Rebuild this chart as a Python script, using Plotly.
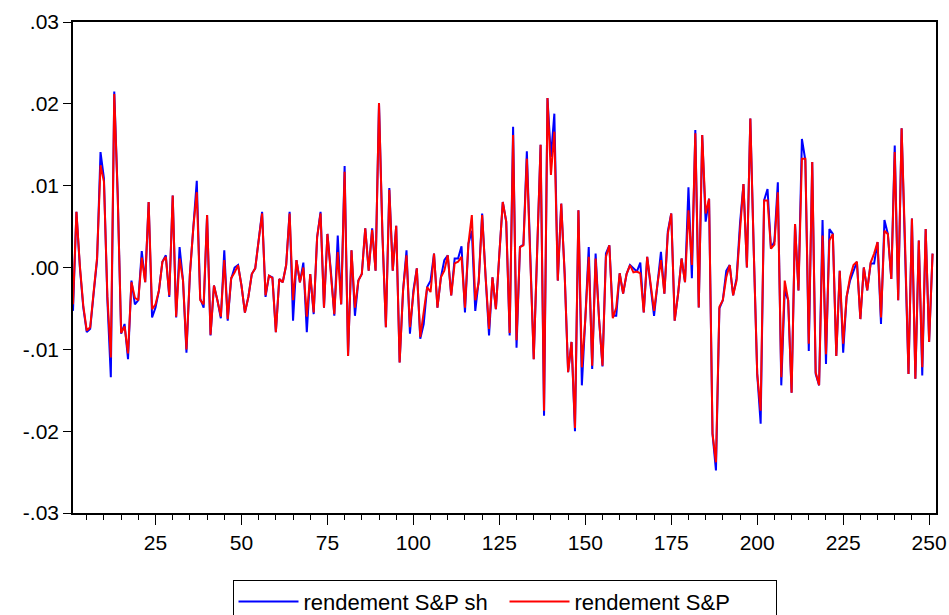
import plotly.graph_objects as go

# observation index
obs = list(range(1, 252))

# rendement S&P sh (blue)
sp_sh = [
    -0.0053, 0.0068, 0.0000, -0.0049, -0.0079, -0.0075, -0.0032, 0.0009, 0.0141, 0.0109,
    -0.0040, -0.0134, 0.0215, 0.0090, -0.0081, -0.0069, -0.0112, -0.0016, -0.0045, -0.0040,
    0.0020, -0.0018, 0.0080, -0.0061, -0.0049, -0.0028, 0.0007, 0.0015, -0.0036, 0.0088,
    -0.0061, 0.0025, -0.0016, -0.0104, -0.0008, 0.0049, 0.0106, -0.0038, -0.0049, 0.0064,
    -0.0083, -0.0022, -0.0040, -0.0062, 0.0021, -0.0065, -0.0014, 0.0000, 0.0003, -0.0022,
    -0.0055, -0.0036, -0.0008, -0.0001, 0.0033, 0.0068, -0.0036, -0.0010, -0.0012, -0.0079,
    -0.0014, -0.0018, 0.0003, 0.0068, -0.0065, 0.0009, -0.0018, 0.0006, -0.0079, -0.0008,
    -0.0057, 0.0037, 0.0068, -0.0049, 0.0041, -0.0004, -0.0059, 0.0039, -0.0045, 0.0124,
    -0.0108, 0.0021, -0.0059, -0.0016, -0.0008, 0.0048, -0.0004, 0.0048, -0.0004, 0.0201,
    0.0040, -0.0073, 0.0097, -0.0004, 0.0051, -0.0116, -0.0028, 0.0021, -0.0081, -0.0028,
    -0.0001, -0.0087, -0.0069, -0.0024, -0.0016, 0.0017, -0.0049, -0.0012, 0.0009, 0.0015,
    -0.0034, 0.0011, 0.0011, 0.0026, -0.0055, 0.0029, 0.0045, -0.0053, -0.0016, 0.0066,
    -0.0011, -0.0083, -0.0012, -0.0051, 0.0016, 0.0080, 0.0056, -0.0083, 0.0172, -0.0098,
    0.0025, 0.0028, 0.0142, 0.0015, -0.0112, 0.0020, 0.0150, -0.0181, 0.0207, 0.0135,
    0.0188, -0.0016, 0.0078, -0.0008, -0.0128, -0.0091, -0.0200, 0.0070, -0.0144, -0.0063,
    0.0025, -0.0124, 0.0017, -0.0063, -0.0121, 0.0017, 0.0027, -0.0059, -0.0059, -0.0007,
    -0.0032, -0.0008, 0.0003, -0.0001, -0.0005, 0.0006, -0.0055, 0.0013, -0.0022, -0.0059,
    -0.0020, 0.0019, -0.0032, 0.0044, 0.0066, -0.0065, -0.0032, 0.0011, -0.0018, 0.0098,
    -0.0013, 0.0168, -0.0049, 0.0162, 0.0056, 0.0084, -0.0203, -0.0248, -0.0050, -0.0040,
    -0.0004, 0.0003, -0.0034, -0.0013, 0.0054, 0.0102, 0.0000, 0.0182, 0.0020, -0.0130,
    -0.0191, 0.0082, 0.0096, 0.0023, 0.0032, 0.0104, -0.0144, -0.0028, -0.0040, -0.0153,
    0.0053, -0.0028, 0.0157, 0.0131, -0.0102, 0.0129, -0.0130, -0.0144, 0.0058, -0.0118,
    0.0047, 0.0041, -0.0108, -0.0004, -0.0104, -0.0036, -0.0016, -0.0004, 0.0007, -0.0063,
    0.0000, -0.0028, 0.0005, 0.0005, 0.0031, -0.0069, 0.0058, 0.0041, -0.0014, 0.0149,
    -0.0040, 0.0170, 0.0030, -0.0130, 0.0060, -0.0136, 0.0033, -0.0132, 0.0047, -0.0091,
    0.0017,
]

# rendement S&P (red)
sp = [
    -0.0045, 0.0068, 0.0002, -0.0047, -0.0077, -0.0073, -0.0030, 0.0012, 0.0125, 0.0105,
    -0.0035, -0.0110, 0.0212, 0.0088, -0.0080, -0.0072, -0.0105, -0.0018, -0.0037, -0.0040,
    0.0012, -0.0018, 0.0080, -0.0051, -0.0045, -0.0028, 0.0007, 0.0013, -0.0034, 0.0088,
    -0.0060, 0.0011, -0.0016, -0.0100, -0.0008, 0.0049, 0.0092, -0.0040, -0.0045, 0.0064,
    -0.0082, -0.0022, -0.0040, -0.0060, 0.0009, -0.0063, -0.0013, -0.0006, 0.0003, -0.0022,
    -0.0055, -0.0036, -0.0008, -0.0001, 0.0033, 0.0066, -0.0034, -0.0010, -0.0013, -0.0079,
    -0.0014, -0.0018, 0.0003, 0.0066, -0.0040, 0.0009, -0.0018, 0.0000, -0.0060, -0.0008,
    -0.0055, 0.0037, 0.0066, -0.0049, 0.0041, -0.0004, -0.0057, 0.0019, -0.0045, 0.0117,
    -0.0108, 0.0021, -0.0049, -0.0016, -0.0008, 0.0048, -0.0004, 0.0046, -0.0004, 0.0201,
    0.0040, -0.0073, 0.0095, -0.0004, 0.0051, -0.0116, -0.0028, 0.0015, -0.0073, -0.0032,
    -0.0001, -0.0085, -0.0057, -0.0024, -0.0030, 0.0017, -0.0049, -0.0012, -0.0004, 0.0015,
    -0.0034, 0.0005, 0.0007, 0.0013, -0.0049, 0.0029, 0.0064, -0.0040, -0.0018, 0.0064,
    -0.0011, -0.0075, -0.0012, -0.0051, 0.0016, 0.0080, 0.0056, -0.0080, 0.0162, -0.0089,
    0.0025, 0.0027, 0.0133, 0.0015, -0.0112, 0.0020, 0.0150, -0.0175, 0.0207, 0.0113,
    0.0166, -0.0016, 0.0078, -0.0008, -0.0128, -0.0091, -0.0196, 0.0070, -0.0122, -0.0063,
    0.0013, -0.0120, 0.0011, -0.0063, -0.0120, 0.0013, 0.0027, -0.0062, -0.0049, -0.0007,
    -0.0032, -0.0008, 0.0003, -0.0006, -0.0005, -0.0007, -0.0055, 0.0013, -0.0022, -0.0053,
    -0.0020, 0.0009, -0.0032, 0.0041, 0.0066, -0.0065, -0.0032, 0.0011, -0.0018, 0.0070,
    0.0003, 0.0164, -0.0049, 0.0162, 0.0066, 0.0084, -0.0203, -0.0238, -0.0048, -0.0040,
    -0.0012, 0.0003, -0.0034, -0.0016, 0.0045, 0.0102, 0.0000, 0.0182, 0.0020, -0.0130,
    -0.0175, 0.0082, 0.0082, 0.0023, 0.0028, 0.0092, -0.0134, -0.0016, -0.0040, -0.0153,
    0.0053, -0.0028, 0.0133, 0.0133, -0.0093, 0.0129, -0.0128, -0.0144, 0.0039, -0.0106,
    0.0033, 0.0041, -0.0108, -0.0004, -0.0093, -0.0036, -0.0012, 0.0003, 0.0007, -0.0063,
    0.0000, -0.0028, 0.0006, 0.0017, 0.0031, -0.0061, 0.0045, 0.0041, -0.0014, 0.0141,
    -0.0040, 0.0170, 0.0030, -0.0130, 0.0060, -0.0136, 0.0033, -0.0122, 0.0047, -0.0091,
    0.0017,
]

y_ticks = [-0.03, -0.02, -0.01, 0.0, 0.01, 0.02, 0.03]
y_tick_labels = ["-.03", "-.02", "-.01", ".00", ".01", ".02", ".03"]
x_ticks = [25, 50, 75, 100, 125, 150, 175, 200, 225, 250]

font_family = "Liberation Sans, Arial, sans-serif"

fig = go.Figure()
fig.add_trace(go.Scatter(x=obs, y=sp_sh, mode="lines", name="rendement S&P sh",
                         line=dict(color="#0000FF", width=2)))
fig.add_trace(go.Scatter(x=obs, y=sp, mode="lines", name="rendement S&P",
                         line=dict(color="#FF0000", width=2)))

fig.update_layout(
    width=949, height=615,
    margin=dict(l=73, r=13, t=22, b=102, autoexpand=False),
    paper_bgcolor="white", plot_bgcolor="white",
    font=dict(family=font_family, size=21, color="black"),
    showlegend=True,
    legend=dict(orientation="h", x=0.5, xanchor="center", y=-0.136, yanchor="top",
                bordercolor="black", borderwidth=1, bgcolor="white",
                font=dict(size=22), itemwidth=60, entrywidth=196, tracegroupgap=0),
)
fig.update_xaxes(
    range=[1, 252], tickmode="array", tickvals=x_ticks,
    ticks="outside", ticklen=10, tickwidth=1, tickcolor="black",
    minor=dict(dtick=5, tick0=0, ticks="outside", ticklen=5, tickwidth=1, tickcolor="black"),
    showline=True, linecolor="black", linewidth=1.5, mirror=True,
    showgrid=False, zeroline=False, tickfont=dict(size=21),
)
fig.update_yaxes(
    range=[-0.03, 0.03], tickmode="array", tickvals=y_ticks, ticktext=y_tick_labels,
    ticks="outside", ticklen=8, tickwidth=1, tickcolor="black",
    showline=True, linecolor="black", linewidth=1.5, mirror=True,
    showgrid=False, zeroline=False, tickfont=dict(size=21),
)

fig.write_html("out.html")
